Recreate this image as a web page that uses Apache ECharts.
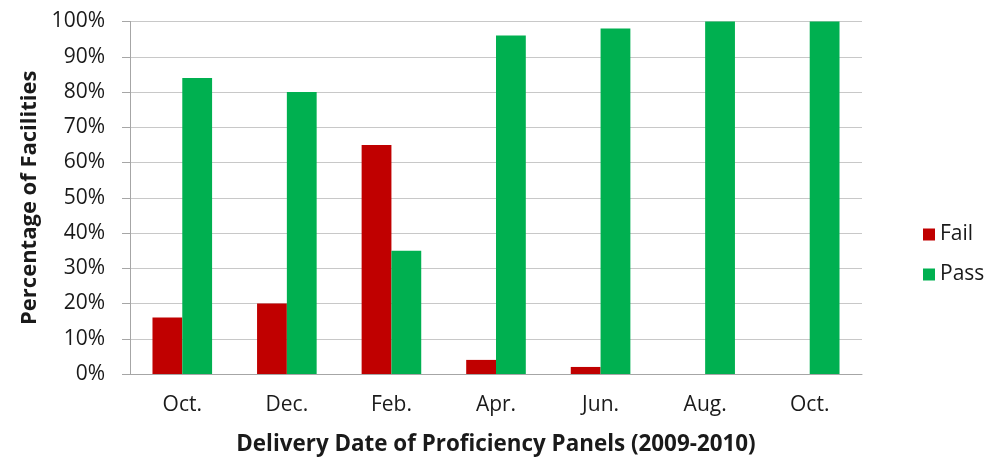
<!DOCTYPE html>
<html>
<head>
<meta charset="utf-8">
<script src="https://cdn.jsdelivr.net/npm/echarts@6/dist/echarts.min.js"></script>
<style>html,body{margin:0;padding:0;background:#fff}#c{width:991px;height:461px}</style>
</head>
<body>
<div id="c"></div>
<script>
const categories = ["Oct.", "Dec.", "Feb.", "Apr.", "Jun.", "Aug.", "Oct."];
const failValues = [16, 20, 65, 4, 2, 0, 0];
const passValues = [84, 80, 35, 96, 98, 100, 100];
const yTicks = [0, 10, 20, 30, 40, 50, 60, 70, 80, 90, 100];

const FONT = '"Open Sans", "Noto Sans", sans-serif';
const chart = echarts.init(document.getElementById('c'), null, {renderer: 'canvas'});
chart.setOption({
  backgroundColor: '#ffffff',
  animation: false,
  textStyle: {fontFamily: FONT},
  grid: {left: 130, right: 129, top: 21.5, bottom: 87},
  legend: {
    orient: 'vertical',
    left: 918,
    top: 219,
    itemWidth: 12,
    itemHeight: 12,
    itemGap: 19,
    icon: 'rect',
    textStyle: {fontSize: 21, color: '#1a1a1a', fontFamily: FONT},
    data: ['Fail', 'Pass']
  },
  xAxis: {
    type: 'category',
    data: categories,
    name: 'Delivery Date of Proficiency Panels (2009-2010)',
    nameLocation: 'middle',
    nameGap: 60,
    nameTextStyle: {fontSize: 22.4, fontWeight: 'bold', color: '#1a1a1a', fontFamily: FONT},
    axisLine: {lineStyle: {color: '#a6a6a6', width: 1}},
    axisTick: {show: false},
    axisLabel: {fontSize: 21, color: '#1a1a1a', margin: 21, fontFamily: FONT}
  },
  yAxis: {
    type: 'value',
    min: 0,
    max: 100,
    interval: 10,
    name: 'Percentage of Facilities',
    nameLocation: 'middle',
    nameGap: 88,
    nameTextStyle: {fontSize: 22, fontWeight: 'bold', color: '#1a1a1a', fontFamily: FONT},
    axisLine: {show: true, lineStyle: {color: '#a6a6a6', width: 1}},
    axisTick: {show: true, length: 8, lineStyle: {color: '#a6a6a6'}},
    axisLabel: {
      fontSize: 21, color: '#1a1a1a', margin: 25, fontFamily: FONT,
      formatter: v => yTicks.includes(v) ? v + '%' : ''
    },
    splitLine: {lineStyle: {color: '#c8c8c8', width: 1}}
  },
  series: [
    {
      name: 'Fail', type: 'bar', data: failValues,
      itemStyle: {color: '#C00000'},
      barGap: '0%', barCategoryGap: '43%'
    },
    {
      name: 'Pass', type: 'bar', data: passValues,
      itemStyle: {color: '#00B050'},
      barGap: '0%', barCategoryGap: '43%'
    }
  ]
});
</script>
</body>
</html>
